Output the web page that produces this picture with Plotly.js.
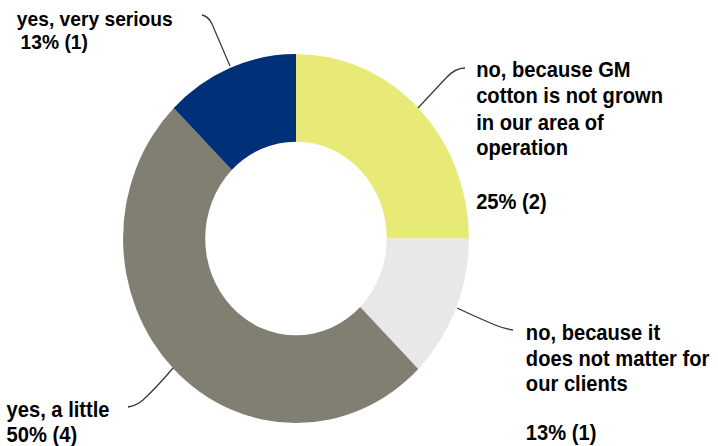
<!DOCTYPE html>
<html>
<head>
<meta charset="utf-8">
<script src="https://cdn.plot.ly/plotly-3.0.1.min.js"></script>
<style>
html,body{margin:0;padding:0;background:#fff;overflow:hidden;width:718px;height:446px;}
#chart{width:766px;height:446px;transform:scaleX(0.937337);transform-origin:0 0;}
</style>
</head>
<body>
<div id="chart"></div>
<script>
// Data
var categories = [
  "no, because GM cotton is not grown in our area of operation",
  "no, because it does not matter for our clients",
  "yes, a little",
  "yes, very serious"
];
var counts = [2, 1, 4, 1];
var sliceColors = ["#E8EA78", "#E8E8E8", "#807F72", "#003078"];
var labelLines = [
  ["no, because GM", "cotton is not grown", "in our area of", "operation"],
  ["no, because it", "does not matter for", "our clients"],
  ["yes, a little"],
  ["yes, very serious"]
];

// Layout geometry (reference pixels); the page is drawn wider then squeezed horizontally
var W = 718, H = 446, WP = 766;
function px(x){ return x / W; }
function py(y){ return 1 - y / H; }

var total = counts.reduce(function(a,b){return a+b;}, 0);
var pct = counts.map(function(v){ return Math.round(v / total * 100) + "% (" + v + ")"; });

// donut: centre and vertical radius in reference pixels
var cx = 296, cy = 238.5, R = 184.5;

var trace = {
  type: "pie",
  labels: categories,
  values: counts,
  sort: false,
  direction: "clockwise",
  rotation: 0,
  hole: 0.525,
  textinfo: "none",
  hoverinfo: "label+percent",
  showlegend: false,
  marker: { colors: sliceColors, line: { width: 0 } },
  domain: { x: [px(cx) - R / WP, px(cx) + R / WP], y: [py(cy + R), py(cy - R)] }
};

function ann(x, baseline, text, fs){
  return { xref: "paper", yref: "paper", x: px(x), y: py(baseline - 0.85 * fs), xanchor: "left", yanchor: "top",
           text: text, showarrow: false, align: "left", borderpad: 0,
           font: { family: "Liberation Sans, Arial, sans-serif", size: fs, color: "#000000", weight: "bold" } };
}

// label block placement: left x, baselines of text lines, baseline of percent line, font size
var blocks = [
  { x: 475, base: [75, 101.5, 128, 153.5], pBase: 207, fs: 21.5, pX: 475 },
  { x: 525, base: [338.5, 364, 389], pBase: 438.5, fs: 21.5, pX: 525 },
  { x: 6,   base: [415], pBase: 440, fs: 21.5, pX: 6 },
  { x: 16,  base: [23.5], pBase: 46.5, fs: 20.5, pX: 20 }
];

var annotations = [];
blocks.forEach(function(b, i){
  labelLines[i].forEach(function(line, j){ annotations.push(ann(b.x, b.base[j], line, b.fs)); });
  annotations.push(ann(b.pX, b.pBase, pct[i], b.fs));
});

function pathOf(pts){
  var s = "M " + px(pts[0][0]) + "," + py(pts[0][1]);
  for (var i = 1; i + 1 < pts.length; i += 2) {
    s += " Q " + px(pts[i][0]) + "," + py(pts[i][1]) + " " + px(pts[i+1][0]) + "," + py(pts[i+1][1]);
  }
  return s;
}
var lineStyle = { color: "#333333", width: 1.3 };
var leaderPts = [
  [[202,15],[208,16],[212,24],[221,45],[230,66]],
  [[465,68],[455,68],[446,78],[432,93],[418,108]],
  [[457,308],[476,317],[495,325],[505,329],[513,330]],
  [[173,368],[158,386],[143,400],[136,406],[128,407]]
];
var shapes = leaderPts.map(function(p){
  return { type: "path", xref: "paper", yref: "paper", path: pathOf(p), line: lineStyle, layer: "above" };
});

var layout = {
  width: WP, height: H,
  margin: { l: 0, r: 0, t: 0, b: 0 },
  paper_bgcolor: "#ffffff",
  annotations: annotations,
  shapes: shapes
};

Plotly.newPlot("chart", [trace], layout, { displayModeBar: false, staticPlot: true });
</script>
</body>
</html>
